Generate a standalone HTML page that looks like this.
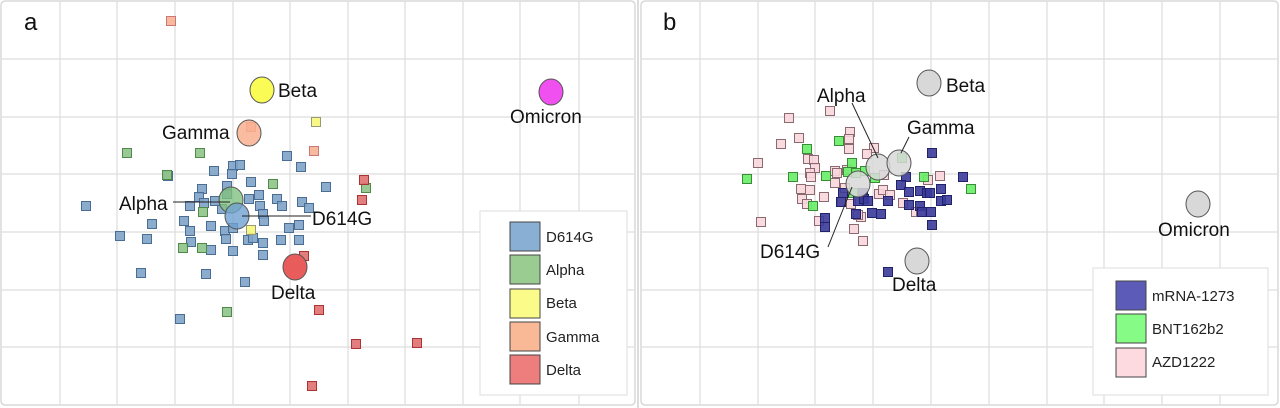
<!DOCTYPE html>
<html><head><meta charset="utf-8"><style>
html,body{margin:0;padding:0;background:#fff;}
svg{display:block;font-family:"Liberation Sans",sans-serif;}
</style></head><body>
<svg id="s" width="1280" height="408" viewBox="0 0 1280 408" xmlns="http://www.w3.org/2000/svg">
<rect x="0" y="0" width="1280" height="408" fill="#fff"/>
<g id="grid" stroke="#dddddd" stroke-width="1.2"></g>
<rect x="1" y="1" width="634" height="404" rx="4" fill="none" stroke="#d8d8d8" stroke-width="1.5"/>
<rect x="641" y="1" width="637" height="404" rx="4" fill="none" stroke="#d8d8d8" stroke-width="1.5"/>
<line x1="638" y1="0" x2="638" y2="408" stroke="#bbb" stroke-width="1"/>
<g id="pts"></g>
<g id="circ"></g>
<g stroke="#222" stroke-width="1">
<line x1="173" y1="202" x2="230" y2="202"/>
<line x1="242" y1="216" x2="311" y2="216"/>
<line x1="852" y1="103" x2="878" y2="158"/>
<line x1="909" y1="137" x2="901" y2="153"/>
<line x1="828" y1="247" x2="852" y2="187"/>
</g>
<g font-size="19" fill="#111">
<text x="24" y="30" font-size="24">a</text>
<text x="278" y="97">Beta</text>
<text x="162" y="139">Gamma</text>
<text x="510" y="123">Omicron</text>
<text x="119" y="210">Alpha</text>
<text x="312" y="225">D614G</text>
<text x="271" y="299">Delta</text>
<text x="663" y="30" font-size="24">b</text>
<text x="946" y="92">Beta</text>
<text x="817" y="102">Alpha</text>
<text x="907" y="134">Gamma</text>
<text x="760" y="258">D614G</text>
<text x="892" y="291">Delta</text>
<text x="1158" y="236">Omicron</text>
</g>
<rect x="480" y="211" width="147" height="184" fill="#fff" stroke="#ddd"/>
<g stroke="#444" stroke-width="1">
<rect x="510" y="222" width="30" height="29" fill="#8aafd4"/>
<rect x="510" y="255" width="30" height="29" fill="#9acc92"/>
<rect x="510" y="289" width="30" height="29" fill="#fbfb8a"/>
<rect x="510" y="322" width="30" height="29" fill="#f9b997"/>
<rect x="510" y="355" width="30" height="29" fill="#ee7d7d"/>
</g>
<g font-size="15" fill="#222">
<text x="546" y="242">D614G</text>
<text x="546" y="275">Alpha</text>
<text x="546" y="308">Beta</text>
<text x="546" y="342">Gamma</text>
<text x="546" y="375">Delta</text>
</g>
<rect x="1093" y="268" width="175" height="127" fill="#fff" stroke="#ddd"/>
<g stroke="#444" stroke-width="1">
<rect x="1116" y="281" width="30" height="29" fill="#5c5cb8"/>
<rect x="1116" y="314" width="30" height="29" fill="#86fb86"/>
<rect x="1116" y="348" width="30" height="29" fill="#fdd9e0"/>
</g>
<g font-size="15" fill="#222">
<text x="1152" y="301">mRNA-1273</text>
<text x="1152" y="334">BNT162b2</text>
<text x="1152" y="367">AZD1222</text>
</g>
</svg>
<script>
var NS="http://www.w3.org/2000/svg";
function el(p,t,a){var e=document.createElementNS(NS,t);for(var k in a)e.setAttribute(k,a[k]);p.appendChild(e);return e;}
var g=document.getElementById('grid');
[60,117,175,233,290,348,405,463,520,579].forEach(function(x){el(g,'line',{x1:x,y1:2,x2:x,y2:404});});
[700,758,815,873,931,989,1047,1104,1162,1220].forEach(function(x){el(g,'line',{x1:x,y1:2,x2:x,y2:404});});
[59,117,174,232,290,347].forEach(function(y){el(g,'line',{x1:2,y1:y,x2:634,y2:y});el(g,'line',{x1:642,y1:y,x2:1277,y2:y});});
var P=document.getElementById('pts');
function sq(list,fill,stroke){list.forEach(function(p){el(P,'rect',{x:p[0]-4.5,y:p[1]-4.5,width:9,height:9,fill:fill,stroke:stroke,'stroke-width':1,'fill-opacity':0.9});});}
var blue=[[287,156],[301,167],[326,187],[214,171],[233,166],[240,165],[232,174],[168,176],[251,182],[227,186],[202,189],[199,197],[190,206],[204,203],[259,195],[249,199],[277,199],[282,206],[302,202],[309,208],[260,206],[263,214],[264,221],[184,221],[152,224],[211,226],[190,231],[225,231],[233,228],[289,228],[299,225],[120,236],[147,239],[226,239],[248,240],[253,238],[281,240],[299,240],[191,242],[211,250],[233,251],[263,243],[263,255],[141,273],[206,274],[245,282],[86,206],[180,319],[227,194],[222,209],[215,201]];
sq(blue,'#7fa3c8','#4a6d94');
sq([[127,153],[200,153],[167,175],[273,184],[366,188],[227,312],[183,248],[202,248],[203,212]],'#8fc487','#4f8a4a');
sq([[364,180],[362,200],[304,256],[319,310],[356,344],[417,343],[312,386]],'#e07070','#a33');
sq([[171,21],[314,151],[251,127]],'#f7b393','#c77');
sq([[316,122],[251,230]],'#f7f77a','#997');
sq([[830,111],[789,118],[799,138],[781,144],[758,163],[761,222],[850,132],[874,148],[808,159],[814,160],[815,168],[810,173],[811,177],[867,154],[835,171],[837,173],[847,170],[835,183],[884,175],[940,176],[928,180],[801,189],[810,190],[802,199],[807,204],[824,197],[845,188],[842,202],[851,204],[879,194],[883,190],[890,195],[903,203],[916,212],[921,212],[819,221],[861,217],[854,229],[863,241],[858,215],[849,139],[849,149]],'#f8d6dc','#8a6a70');
sq([[747,179],[793,177],[807,149],[839,141],[826,176],[852,163],[848,172],[856,173],[865,171],[875,178],[902,158],[924,177],[971,189],[813,206],[853,193]],'#66ee66','#3a8a3a');
sq([[932,153],[906,177],[963,177],[901,185],[909,192],[920,191],[927,193],[930,193],[941,189],[941,201],[947,200],[888,201],[843,193],[841,202],[858,201],[863,193],[864,199],[868,201],[856,214],[872,213],[881,214],[909,205],[920,206],[922,212],[931,212],[932,225],[825,218],[825,227],[888,272]],'#3a3a9a','#22226a');
var C=document.getElementById('circ');
function c(x,y,f,o){el(C,'ellipse',{cx:x,cy:y,rx:12,ry:13,fill:f,stroke:'#555','stroke-width':1,'fill-opacity':o||1});}
c(262,90,'#fbfb55');c(249,133,'#f9b090',0.85);c(551,92,'#f050f0');c(231,200,'#80c080',0.8);c(237,216,'#6fa0d0',0.8);c(295,267,'#e85c5c');
c(929,83,'#d8d8d8');c(1198,204,'#d8d8d8');c(917,261,'#d8d8d8');c(878,167,'#d8d8d8',0.85);c(899,163,'#d8d8d8',0.85);c(858,184,'#d8d8d8',0.85);
</script>
</body></html>
